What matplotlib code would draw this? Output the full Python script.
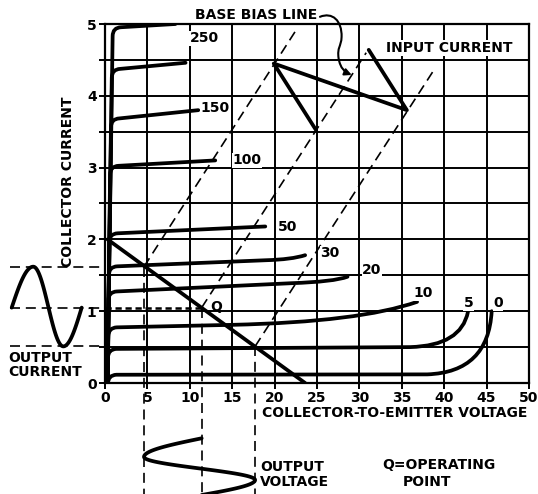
import numpy as np
import matplotlib.pyplot as plt
from matplotlib.path import Path
from matplotlib.patches import PathPatch, FancyArrowPatch

plt.rcParams['font.family'] = ['DejaVu Sans']
plt.rcParams['font.weight'] = 'bold'

# collector characteristic curves, one per base current (microamps)
ib_labels = ["250", "", "150", "100", "50", "30", "20", "10", "5", "0"]
ic_knee = [4.95, 4.37, 3.68, 3.02, 2.08, 1.62, 1.27, 0.77, 0.47, 0.11]
v_knee = [0.9, 0.8, 0.7, 0.6, 0.5, 0.45, 0.4, 0.4, 0.35, 0.35]
v_flat = [8.3, 9.5, 11.0, 13.0, 18.9, 19.0, 22.0, 15.0, 36.0, 38.0]
ic_flat = [5.0, 4.46, 3.8, 3.1, 2.18, 1.71, 1.39, 0.81, 0.5, 0.12]
# upturn near breakdown (nan = none)
v_bend = [np.nan, np.nan, np.nan, np.nan, np.nan, 22.0, 27.0, 30.0, 42.0, 45.2]
ic_bend = [np.nan, np.nan, np.nan, np.nan, np.nan, 1.72, 1.41, 0.85, 0.52, 0.15]
v_tail = [np.nan, np.nan, np.nan, np.nan, np.nan, 23.6, 28.6, 36.8, 42.8, 45.6]
ic_tail = [np.nan, np.nan, np.nan, np.nan, np.nan, 1.78, 1.48, 1.13, 0.99, 1.0]

label_v = [10.0, np.nan, 11.2, 15.0, 20.4, 25.4, 30.3, 36.4, 42.3, 45.8]
label_i = [4.8, np.nan, 3.83, 3.1, 2.17, 1.81, 1.57, 1.25, 1.11, 1.11]

# load line and operating point
load_v = [0.3, 23.6]
load_i = [2.0, 0.0]
q_v, q_i = 11.4, 1.05
swing_v = [4.6, 11.4, 17.7]     # min, Q, max collector voltage
swing_i = [1.62, 1.05, 0.51]    # max, Q, min collector current

# base bias lines (start on load line, end near top)
bias_v0 = [4.6, 11.4, 17.7]
bias_i0 = [1.62, 1.05, 0.51]
bias_v1 = [22.4, 30.8, 38.9]
bias_i1 = [4.89, 4.6, 4.38]

# input current swing drawn along the bias lines
input_v = [31.1, 35.6, 19.9, 24.9]
input_i = [4.64, 3.80, 4.45, 3.52]

W, H = 538, 494
fig = plt.figure(figsize=(W / 100, H / 100), dpi=100)
ax = fig.add_axes([105 / W, 1 - 383 / H, 424 / W, 359 / H])
ax.set_xlim(0, 50)
ax.set_ylim(0, 5)

ax.set_xticks(np.arange(0, 51, 5))
ax.set_xticklabels([str(v) for v in range(0, 51, 5)], fontsize=10)
yt = np.arange(0, 5.01, 0.5)
ax.set_yticks(yt)
ax.set_yticklabels([str(int(v)) if v == int(v) else "" for v in yt], fontsize=10)
ax.tick_params(direction='out', length=4, width=1.4, pad=2, color='black')
ax.grid(True, color='black', linewidth=1.4)
ax.set_axisbelow(True)
for s in ax.spines.values():
    s.set_linewidth(1.6)

curve_lw = 2.7

# characteristic curves
for k in range(len(ic_knee)):
    verts = [(0.3, 0.0), (v_knee[k], ic_knee[k] - 0.12),
             (v_knee[k], ic_knee[k]), (v_knee[k] + 1.0, ic_knee[k] + 0.005),
             (v_flat[k], ic_flat[k])]
    codes = [Path.MOVETO, Path.LINETO, Path.CURVE3, Path.CURVE3, Path.LINETO]
    if not np.isnan(v_bend[k]):
        verts += [(v_bend[k], ic_bend[k]), (v_tail[k], ic_tail[k])]
        codes += [Path.CURVE3, Path.CURVE3]
    ax.add_patch(PathPatch(Path(verts, codes), facecolor='none', edgecolor='black',
                           lw=curve_lw, capstyle='round', joinstyle='round', zorder=3))
    if ib_labels[k]:
        ax.text(label_v[k], label_i[k], ib_labels[k], fontsize=10, ha='left', va='center',
                zorder=5, bbox=dict(facecolor='white', edgecolor='none', pad=0.3))

# load line
ax.plot(load_v, load_i, color='black', lw=curve_lw, solid_capstyle='round', zorder=3)
ax.text(q_v + 1.0, q_i + 0.01, "Q", fontsize=10, ha='left', va='center', zorder=5)

# base bias lines
for k in range(3):
    ax.plot([bias_v0[k], bias_v1[k]], [bias_i0[k], bias_i1[k]], color='black',
            lw=1.2, dashes=(6, 3.5), zorder=2)

# input current
ax.plot(input_v, input_i, color='black', lw=curve_lw, solid_joinstyle='round',
        solid_capstyle='round', zorder=3)

# projections of the voltage swing below the axis
y_bottom = -1.6
for v, i in zip(swing_v, [swing_i[0], swing_i[1], swing_i[2]]):
    ax.plot([v, v], [i, y_bottom], color='black', lw=1.2, dashes=(6, 3.5),
            clip_on=False, zorder=2)

# projections of the current swing to the left
x_left = -11.2
for i in swing_i:
    ax.plot([x_left, 0], [i, i], color='black', lw=1.2, dashes=(6, 3.5),
            clip_on=False, zorder=2)
ax.plot([0, q_v], [q_i, q_i], color='black', lw=1.8, dashes=(2.5, 1.5), zorder=2)

# output current wave
i_max, i_q, i_min = swing_i
xa, xb, xc, xd = -11.0, -8.46, -4.92, -2.75
s = np.linspace(0, 1, 40)
wx = np.concatenate([xa + (xb - xa) * s, xb + (xc - xb) * s, xc + (xd - xc) * s])
wy = np.concatenate([i_q + (i_max - i_q) * np.sin(np.pi / 2 * s),
                     (i_max + i_min) / 2 + (i_max - i_min) / 2 * np.cos(np.pi * s),
                     i_q - (i_q - i_min) * np.cos(np.pi / 2 * s)])
ax.plot(wx, wy, color='black', lw=curve_lw, clip_on=False, solid_capstyle='round')

# output voltage wave (time runs downward)
v_min, v_q, v_max = swing_v
ya, yb, yc, yd = -0.77, -1.03, -1.35, -1.56
vy = np.concatenate([ya + (yb - ya) * s, yb + (yc - yb) * s, yc + (yd - yc) * s])
vx = np.concatenate([v_q - (v_q - v_min) * np.sin(np.pi / 2 * s),
                     (v_min + v_max) / 2 - (v_max - v_min) / 2 * np.cos(np.pi * s),
                     v_q + (v_max - v_q) * np.cos(np.pi / 2 * s)])
ax.plot(vx, vy, color='black', lw=curve_lw, clip_on=False, solid_capstyle='round')

# arrow from the "BASE BIAS LINE" caption
arrow_path = Path([(25.35, 5.10), (26.8, 5.17), (27.95, 5.05), (27.9, 4.82),
                   (27.85, 4.68), (27.35, 4.68), (27.55, 4.52),
                   (27.75, 4.38), (28.3, 4.33), (29.1, 4.29)],
                  [Path.MOVETO, Path.CURVE4, Path.CURVE4, Path.CURVE4,
                   Path.CURVE4, Path.CURVE4, Path.CURVE4,
                   Path.CURVE4, Path.CURVE4, Path.CURVE4])
ax.add_patch(FancyArrowPatch(path=arrow_path, arrowstyle='-|>', mutation_scale=10,
                             lw=1.5, color='black', transform=ax.transData,
                             clip_on=False, zorder=5))


def px(x, y):
    return x / W, 1 - y / H


fig.text(*px(256, 15), "BASE BIAS LINE", fontsize=10, ha='center', va='center')
fig.text(*px(449, 48), "INPUT CURRENT", fontsize=10, ha='center', va='center',
         bbox=dict(facecolor='white', edgecolor='none', pad=1), zorder=6)
fig.text(*px(68, 182), "COLLECTOR CURRENT", fontsize=10, rotation=90,
         ha='center', va='center')
fig.text(*px(8, 358), "OUTPUT", fontsize=10, ha='left', va='center')
fig.text(*px(8, 372), "CURRENT", fontsize=10, ha='left', va='center')
fig.text(*px(395, 413), "COLLECTOR-TO-EMITTER VOLTAGE", fontsize=10,
         ha='center', va='center')
fig.text(*px(260, 467), "OUTPUT", fontsize=10, ha='left', va='center')
fig.text(*px(260, 482), "VOLTAGE", fontsize=10, ha='left', va='center')
fig.text(*px(382, 465), "Q=OPERATING", fontsize=10, ha='left', va='center')
fig.text(*px(403, 482), "POINT", fontsize=10, ha='left', va='center')

fig.savefig("out.png", dpi=100)
